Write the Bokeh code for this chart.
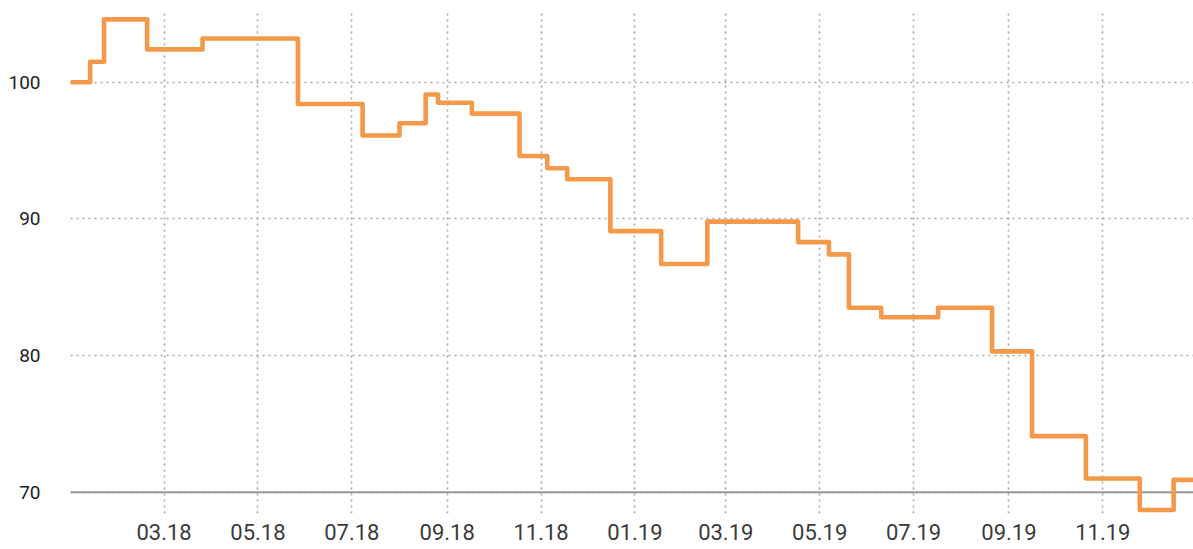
import pandas as pd
from bokeh.plotting import figure
from bokeh.models import FixedTicker, DatetimeTickFormatter, Span, Range1d
from bokeh.embed import file_html
from bokeh.resources import INLINE

# ---- data ----
step_dates = [
    "2017-12-30", "2018-01-12", "2018-01-21", "2018-02-18", "2018-03-26",
    "2018-05-27", "2018-07-08", "2018-08-01", "2018-08-18", "2018-08-26",
    "2018-09-17", "2018-10-18", "2018-11-05", "2018-11-18", "2018-12-16",
    "2019-01-18", "2019-02-17", "2019-04-17", "2019-05-07", "2019-05-20",
    "2019-06-10", "2019-07-17", "2019-08-21", "2019-09-16", "2019-10-21",
    "2019-11-25", "2019-12-17", "2019-12-30",
]
step_values = [
    100.0, 101.5, 104.6, 102.4, 103.2,
    98.4, 96.1, 97.0, 99.1, 98.5,
    97.7, 94.6, 93.7, 92.9, 89.1,
    86.7, 89.8, 88.3, 87.4, 83.5,
    82.8, 83.5, 80.3, 74.1, 71.0,
    68.7, 70.9, 70.9,
]
x_tick_dates = [
    "2018-03-01", "2018-05-01", "2018-07-01", "2018-09-01", "2018-11-01",
    "2019-01-01", "2019-03-01", "2019-05-01", "2019-07-01", "2019-09-01",
    "2019-11-01",
]
y_ticks = [70, 80, 90, 100]
baseline_value = 70


def ms(s):
    return pd.Timestamp(s).value / 1e6


xs = pd.to_datetime(step_dates)

p = figure(
    width=1193, height=549,
    x_axis_type="datetime",
    output_backend="svg", toolbar_location=None,
    x_range=Range1d(ms("2017-12-30 05:00"), ms("2019-12-29 22:00")),
    y_range=Range1d(68.44, 105.1),
    min_border_left=70, min_border_right=0,
    min_border_top=12, min_border_bottom=36,
)
p.outline_line_color = None
p.background_fill_color = "white"
p.border_fill_color = "white"

# grids
for g in (p.xgrid, p.ygrid):
    g.grid_line_color = "#a6a6a6"
    g.grid_line_width = 1.6
    g.grid_line_dash = "2 4"

# axes
p.xaxis.ticker = FixedTicker(ticks=[ms(d) for d in x_tick_dates])
fmt = "%m.%y"
p.xaxis.formatter = DatetimeTickFormatter(
    milliseconds=fmt, seconds=fmt, minsec=fmt, minutes=fmt, hourmin=fmt,
    hours=fmt, days=fmt, months=fmt, years=fmt,
)
p.yaxis.ticker = FixedTicker(ticks=y_ticks)

for ax in (p.xaxis, p.yaxis):
    ax.axis_line_color = None
    ax.major_tick_line_color = None
    ax.minor_tick_line_color = None
    ax.major_tick_in = 0
    ax.major_tick_out = 0
    ax.minor_tick_out = 0
    ax.major_label_text_font = "Roboto"

p.xaxis.major_label_text_font_size = "22px"
p.xaxis.major_label_text_color = "#3a3a3a"
p.xaxis.major_label_standoff = 10
p.yaxis.major_label_text_font_size = "19px"
p.yaxis.major_label_text_color = "#222222"
p.yaxis.major_label_standoff = 30

# solid baseline at 70
p.add_layout(Span(location=baseline_value, dimension="width",
                  line_color="#999999", line_width=2, level="underlay"))

p.step(xs, step_values, mode="after", line_color="#f4994a",
       line_width=4.6, line_join="round", line_cap="round")

open("out.html", "w").write(file_html(p, INLINE))
